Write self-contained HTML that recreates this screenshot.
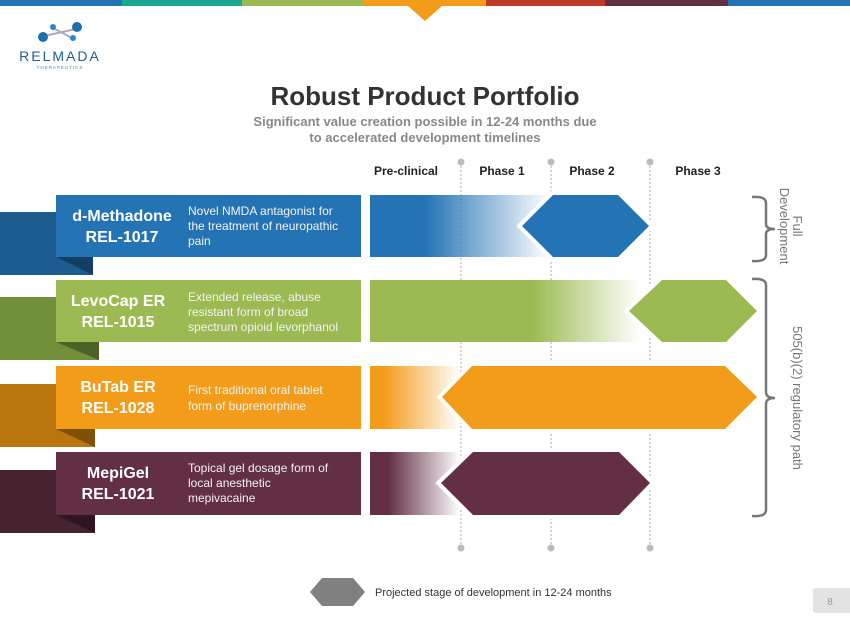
<!DOCTYPE html>
<html><head><meta charset="utf-8"><style>
html,body{margin:0;padding:0;background:#fff;}
svg{display:block;font-family:"Liberation Sans",sans-serif;}
</style></head><body>
<svg width="850" height="637" viewBox="0 0 850 637" xmlns="http://www.w3.org/2000/svg">
<defs>
<linearGradient id="gb" x1="0" x2="1"><stop offset="0" stop-color="#2473b5"/><stop offset="0.3" stop-color="#2473b5"/><stop offset="1" stop-color="#2473b5" stop-opacity="0"/></linearGradient>
<linearGradient id="gg" x1="0" x2="1"><stop offset="0" stop-color="#9bbb52"/><stop offset="0.6" stop-color="#9bbb52"/><stop offset="1" stop-color="#9bbb52" stop-opacity="0"/></linearGradient>
<linearGradient id="go" x1="0" x2="1"><stop offset="0" stop-color="#f39c1a"/><stop offset="0.15" stop-color="#f39c1a"/><stop offset="1" stop-color="#f39c1a" stop-opacity="0"/></linearGradient>
<linearGradient id="gm" x1="0" x2="1"><stop offset="0" stop-color="#622f44"/><stop offset="0.2" stop-color="#622f44"/><stop offset="1" stop-color="#622f44" stop-opacity="0"/></linearGradient>
</defs>
<rect x="0" y="0" width="122" height="6" fill="#2473b5"/>
<rect x="122" y="0" width="120" height="6" fill="#1aa893"/>
<rect x="242" y="0" width="122" height="6" fill="#9bbb52"/>
<rect x="364" y="0" width="122" height="6" fill="#f39c1a"/>
<rect x="486" y="0" width="119" height="6" fill="#c0392b"/>
<rect x="605" y="0" width="123" height="6" fill="#622f44"/>
<rect x="728" y="0" width="122" height="6" fill="#2473b5"/>
<polygon points="408,6 442,6 425,21" fill="#f39c1a"/>
<line x1="44" y1="36" x2="76" y2="29" stroke="#aab" stroke-width="2"/>
<line x1="53" y1="28" x2="72" y2="38" stroke="#aab" stroke-width="2"/>
<circle cx="43" cy="37" r="5" fill="#1f6fb0"/>
<circle cx="53" cy="27" r="3" fill="#2a86c6"/>
<circle cx="77" cy="27" r="5" fill="#1f6fb0"/>
<circle cx="73" cy="38" r="3" fill="#2a86c6"/>
<text x="60" y="61" font-size="14" fill="#1f5f8f" text-anchor="middle" letter-spacing="2">RELMADA</text>
<text x="60" y="69" font-size="4.5" fill="#3a8ac0" text-anchor="middle" letter-spacing="1">THERAPEUTICS</text>
<text x="425" y="105" font-size="26" font-weight="bold" fill="#333" text-anchor="middle">Robust Product Portfolio</text>
<text x="425" y="126" font-size="13" font-weight="bold" fill="#888" text-anchor="middle">Significant value creation possible in 12-24 months due</text>
<text x="425" y="142" font-size="13" font-weight="bold" fill="#888" text-anchor="middle">to accelerated development timelines</text>
<g font-size="12" font-weight="bold" fill="#222" text-anchor="middle">
<text x="406" y="175">Pre-clinical</text><text x="502" y="175">Phase 1</text><text x="592" y="175">Phase 2</text><text x="698" y="175">Phase 3</text></g>
<rect x="0" y="212" width="93" height="63" fill="#1c5c8e"/><polygon points="56,257 93,257 93,275" fill="#123f63"/>
<rect x="0" y="297" width="99" height="63" fill="#728f3a"/><polygon points="56,342 99,342 99,360" fill="#4d6226"/>
<rect x="0" y="384" width="95" height="63" fill="#b9760f"/><polygon points="56,429 95,429 95,447" fill="#7f500a"/>
<rect x="0" y="470" width="95" height="63" fill="#47222f"/><polygon points="56,515 95,515 95,533" fill="#2e1520"/>
<rect x="56" y="195" width="305" height="62" fill="#2473b5"/>
<rect x="56" y="280" width="305" height="62" fill="#9bbb52"/>
<rect x="56" y="366" width="305" height="63" fill="#f39c1a"/>
<rect x="56" y="452" width="305" height="63" fill="#622f44"/>
<g fill="#fff" font-weight="bold" font-size="16" text-anchor="middle">
<text x="122" y="221">d-Methadone</text><text x="122" y="242">REL-1017</text>
<text x="118" y="306">LevoCap ER</text><text x="118" y="327">REL-1015</text>
<text x="118" y="392">BuTab ER</text><text x="118" y="413">REL-1028</text>
<text x="118" y="478">MepiGel</text><text x="118" y="499">REL-1021</text>
</g>
<g fill="#f3f3f3" font-size="12">
<text x="188" y="215">Novel NMDA antagonist for</text><text x="188" y="230">the treatment of neuropathic</text><text x="188" y="245">pain</text>
<text x="188" y="301">Extended release, abuse</text><text x="188" y="316">resistant form of broad</text><text x="188" y="331">spectrum opioid levorphanol</text>
<text x="188" y="394">First traditional oral tablet</text><text x="188" y="410">form of buprenorphine</text>
<text x="188" y="472">Topical gel dosage form of</text><text x="188" y="487">local anesthetic</text><text x="188" y="502">mepivacaine</text>
</g>
<g stroke="#bbb" stroke-width="1.2" stroke-dasharray="2,2">
<line x1="461" y1="162" x2="461" y2="548"/><line x1="551" y1="162" x2="551" y2="548"/><line x1="650" y1="162" x2="650" y2="548"/></g>
<rect x="370" y="195" width="180" height="62" fill="url(#gb)"/>
<rect x="370" y="280" width="270" height="62" fill="url(#gg)"/>
<rect x="370" y="366" width="90" height="63" fill="url(#go)"/>
<rect x="370" y="452" width="90" height="63" fill="url(#gm)"/>
<g fill="#bbb"><circle cx="461" cy="162" r="3.5"/><circle cx="551" cy="162" r="3.5"/><circle cx="650" cy="162" r="3.5"/>
<circle cx="461" cy="548" r="3.5"/><circle cx="551" cy="548" r="3.5"/><circle cx="650" cy="548" r="3.5"/></g>
<g stroke="#fff" stroke-width="8" stroke-linejoin="miter" paint-order="stroke">
<polygon points="522,226 553,195 618,195 649,226 618,257 553,257" fill="#2473b5"/>
<polygon points="629,311 662,280 726,280 757,311 726,342 662,342" fill="#9bbb52"/>
<polygon points="442,397 472,366 725,366 757,397 725,429 472,429" fill="#f39c1a"/>
<polygon points="441,483 473,452 619,452 650,483 619,515 473,515" fill="#622f44"/>
</g>
<g fill="none" stroke="#777" stroke-width="2.5">
<path d="M752,197 Q766,196 766,203 L766,224 Q766,229 775,229 Q766,229 766,234 L766,255 Q766,262 752,261"/>
<path d="M752,279 Q766,278 766,285 L766,392 Q766,398 775,398 Q766,398 766,404 L766,510 Q766,517 752,516"/>
</g>
<g fill="#777" font-size="13" text-anchor="middle">
<text transform="translate(793,226) rotate(90)"><tspan x="0" y="0">Full</tspan><tspan x="0" y="13">Development</tspan></text>
<text transform="translate(793,398) rotate(90)">505(b)(2) regulatory path</text>
</g>
<polygon points="310,592 322,578 353,578 365,592 353,606 322,606" fill="#808080"/>
<text x="375" y="596" font-size="11" fill="#333">Projected stage of development in 12-24 months</text>
<rect x="813" y="588" width="40" height="25" rx="3" fill="#e3e3e3"/>
<text x="830" y="605" font-size="10" fill="#999" text-anchor="middle">8</text>
</svg>
</body></html>
